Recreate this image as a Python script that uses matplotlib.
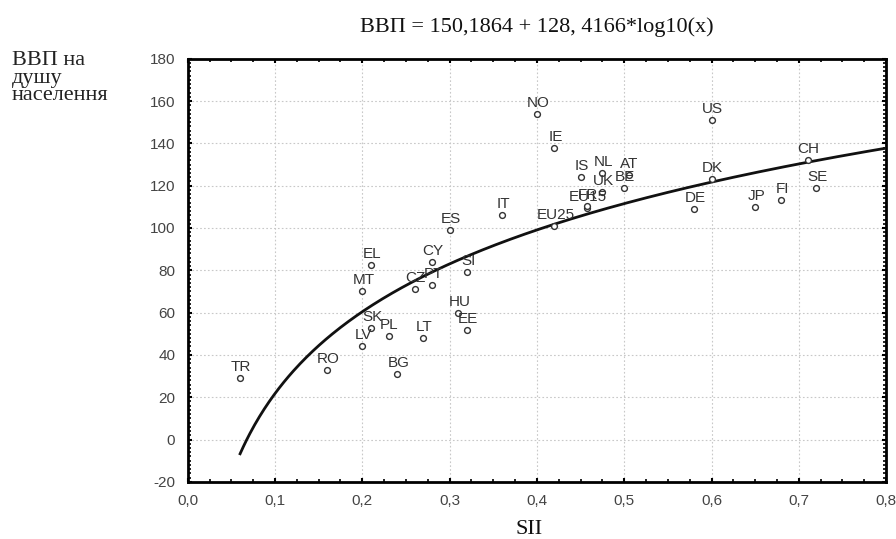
import numpy as np
import matplotlib
matplotlib.use("Agg")
import matplotlib.pyplot as plt
from matplotlib.ticker import MultipleLocator, FuncFormatter

# ---- data ----
countries = ["TR", "RO", "LV", "SK", "PL", "BG", "LT", "MT", "EL", "CZ", "PT", "CY",
             "ES", "SI", "HU", "EE", "IT", "NO", "IE", "EU25", "IS", "NL", "UK",
             "BE", "AT", "EU15", "FR", "US", "DK", "DE", "JP", "FI", "CH", "SE"]
sii = [0.06, 0.16, 0.20, 0.21, 0.23, 0.24, 0.27, 0.20, 0.21, 0.26, 0.28, 0.28,
       0.30, 0.32, 0.31, 0.32, 0.36, 0.40, 0.42, 0.42, 0.45, 0.475, 0.475,
       0.50, 0.505, 0.457, 0.457, 0.60, 0.60, 0.58, 0.65, 0.68, 0.71, 0.72]
gdp = [29, 33, 44, 52.5, 49, 31, 48, 70, 82.5, 71, 73, 84,
       99, 79, 60, 52, 106, 154, 138, 101, 124, 126, 117,
       119, 125, 109.5, 110.5, 151, 123, 109, 110, 113, 132, 119]

fit_a = 150.1864
fit_b = 128.4166
fit_x_range = [0.06, 0.8]

x_ticks = [0.0, 0.1, 0.2, 0.3, 0.4, 0.5, 0.6, 0.7, 0.8]
y_ticks = [-20, 0, 20, 40, 60, 80, 100, 120, 140, 160, 180]

# ---- figure ----
fig = plt.figure(figsize=(8.96, 5.39), dpi=100)
ax = fig.add_axes([0.2095, 0.106, 0.7795, 0.785])

serif = ["Liberation Serif", "DejaVu Serif"]
sans = ["Liberation Sans", "DejaVu Sans"]

xs = np.linspace(fit_x_range[0], fit_x_range[1], 400)
ax.plot(xs, fit_a + fit_b * np.log10(xs), color="#111111", lw=2.0, zorder=3)

ax.plot(sii, gdp, linestyle="none", marker="o", ms=4.2, mfc="white",
        mec="#333333", mew=1.0, zorder=4)
for name, x, y in zip(countries, sii, gdp):
    ax.annotate(name, (x, y), xytext=(1, 11), textcoords="offset pixels",
                ha="center", va="center", fontsize=11, family=sans,
                color="#333333", zorder=5)

ax.set_xlim(x_ticks[0], x_ticks[-1])
ax.set_ylim(y_ticks[0], y_ticks[-1])
ax.set_xticks(x_ticks)
ax.set_yticks(y_ticks)
ax.xaxis.set_minor_locator(MultipleLocator(0.025))
ax.yaxis.set_minor_locator(MultipleLocator(2))
ax.xaxis.set_major_formatter(FuncFormatter(lambda v, p: f"{v:.1f}".replace(".", ",")))
ax.yaxis.set_major_formatter(FuncFormatter(lambda v, p: f"{v:.0f}"))

ax.tick_params(which="both", direction="in", top=True, right=True,
               labelsize=11, labelcolor="#444444", color="black")
ax.tick_params(which="major", length=3, width=1.5, pad=9)
ax.tick_params(which="minor", length=2.5, width=1.2)
for lab in ax.get_xticklabels() + ax.get_yticklabels():
    lab.set_family(sans)

for s in ax.spines.values():
    s.set_linewidth(2.0)
    s.set_color("black")

ax.grid(True, which="major", linestyle=(0, (1.5, 2)), color="#c8c8c8", lw=0.8)
ax.set_axisbelow(True)

fig.text(0.599, 0.949, "ВВП = 150,1864 + 128, 4166*log10(x)", ha="center",
         va="center", fontsize=16, family=serif, color="#111111")
fig.text(0.013, 0.905, "ВВП на\nдушу\nнаселення", ha="left", va="top",
         fontsize=16, family=serif, color="#222222", linespacing=0.9)
fig.text(0.59, 0.017, "SII", ha="center", va="center", fontsize=16,
         family=serif, color="#111111")

fig.savefig("out.png", dpi=100)
